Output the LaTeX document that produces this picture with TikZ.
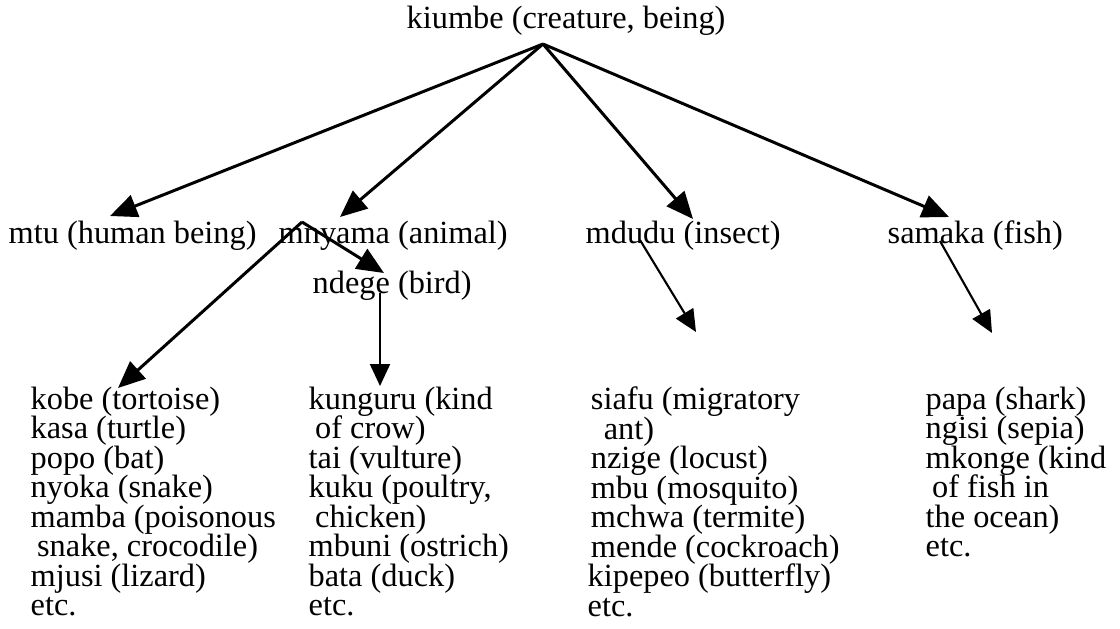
\documentclass[tikz,border=0pt]{standalone}
\usepackage{fontspec}
\setmainfont{Liberation Serif}
\usetikzlibrary{arrows.meta}

% tight rows for the word columns
\newcommand{\colfont}{\fontsize{9.2}{8.4}\selectfont\lineskiplimit=-10pt\relax}

\begin{document}
\begin{tikzpicture}[
    word/.style = {inner sep=0pt, anchor=base west, font=\fontsize{9.2}{9.4}\selectfont},
    list/.style = {inner sep=0pt, anchor=north west, align=left, font=\colfont},
    arr/.style = {line width=0.85pt, -{Triangle[length=2.7mm, width=2.3mm]}},
    thin arr/.style = {line width=0.6pt, -{Triangle[length=2.2mm, width=2mm]}}
  ]
    \useasboundingbox (0,0) rectangle (11.2,6.28);

    % top and the four classes
    \node[word] (kiumbe) at (4.06,6.00) {kiumbe (creature, being)};
    \node[word] (mtu) at (0.08,3.85) {mtu (human being)};
    \node[word] (mnyama) at (2.78,3.85) {mnyama (animal)};
    \node[word] (mdudu) at (5.85,3.85) {mdudu (insect)};
    \node[word] (samaka) at (8.87,3.85) {samaka (fish)};
    \node[word] (ndege) at (3.12,3.35) {ndege (bird)};

    % the lists
    \node[list] (kobe) at (0.30,2.42) {kobe (tortoise)\\ kasa (turtle)\\ popo (bat)\\ nyoka (snake)\\ mamba (poisonous\\ \hspace*{.2em}snake, crocodile)\\ mjusi (lizard)\\ etc.};
    \node[list] (kunguru) at (3.08,2.42) {kunguru (kind\\ \hspace*{.2em}of crow)\\ tai (vulture)\\ kuku (poultry,\\ \hspace*{.2em}chicken)\\ mbuni (ostrich)\\ bata (duck)\\ etc.};
    \node[list] (siafu) at (5.87,2.42) {\hspace*{.1em}siafu (migratory\\ \hspace*{.5em}ant)\\ \hspace*{.1em}nzige (locust)\\ \hspace*{.1em}mbu (mosquito)\\ \hspace*{.1em}mchwa (termite)\\ \hspace*{.1em}mende (cockroach)\\ kipepeo (butterfly)\\ etc.};
    \node[list] (papa) at (9.25,2.42) {papa (shark)\\ ngisi (sepia)\\ mkonge (kind\\ \hspace*{.2em}of fish in\\ the ocean)\\ etc.};

    \coordinate (top) at ([shift={(1.37,-0.16)}]kiumbe.base west);
    \draw[arr] (top) -- ([shift={(1.02,0.27)}]mtu.base west);
    \draw[arr] (top) -- ([shift={(0.62,0.26)}]mnyama.base west);
    \draw[arr] (top) -- ([shift={(1.08,0.24)}]mdudu.base west);
    \draw[arr] (top) -- ([shift={(0.62,0.26)}]samaka.base west);

    \coordinate (split) at ([shift={(0.24,0.21)}]mnyama.base west);
    \draw[arr] (split) -- ([shift={(0.88,-0.02)}]kobe.north west);
    \draw[arr] (split) -- ([shift={(0.72,0.20)}]ndege.base west);
    \draw[thin arr] ([xshift=6.8mm]ndege.base west) coordinate (nd) -- (nd |- kunguru.north);

    \draw[thin arr] ([shift={(0.55,0.03)}]mdudu.base west) -- ([shift={(1.09,0.54)}]siafu.north west);
    \draw[thin arr] ([shift={(0.53,0.02)}]samaka.base west) -- ([shift={(0.67,0.53)}]papa.north west);
\end{tikzpicture}
\end{document}
